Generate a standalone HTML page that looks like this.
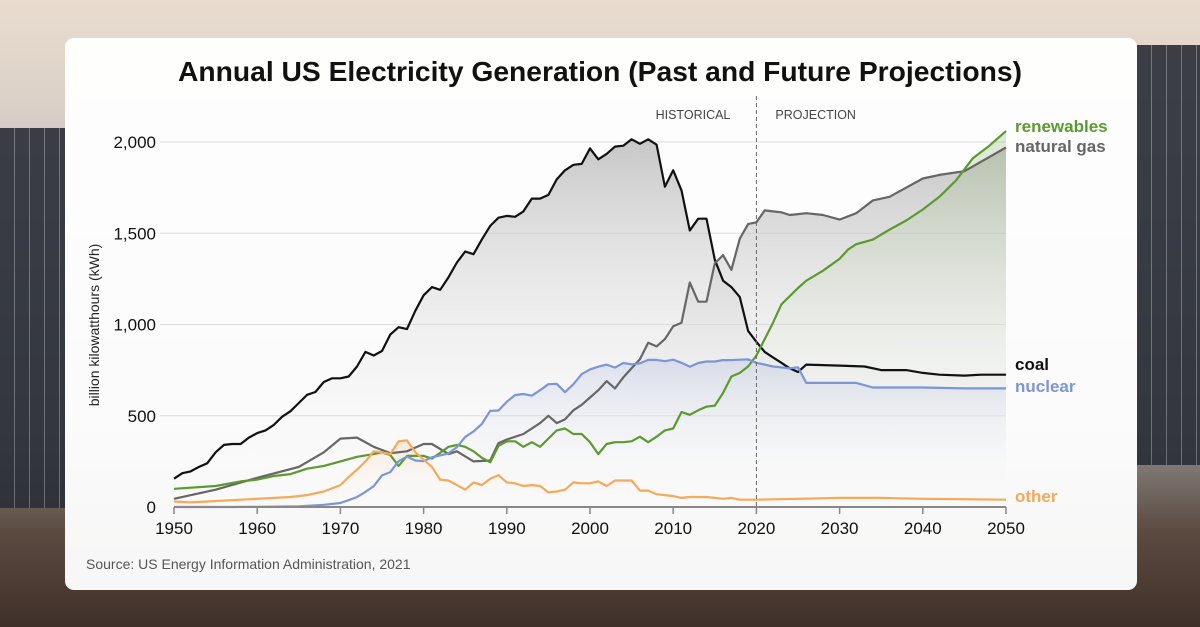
<!DOCTYPE html>
<html><head><meta charset="utf-8"><style>
html,body{margin:0;padding:0;width:1200px;height:627px;overflow:hidden;font-family:"Liberation Sans",sans-serif}
#bg{position:absolute;left:0;top:0;width:1200px;height:627px;background:linear-gradient(180deg,#e9dccf 0%,#ddd2c8 15%,#b9b8bc 40%,#8d8a88 70%,#5b4a40 85%,#3f3029 100%)}
.panel{position:absolute;background:repeating-linear-gradient(90deg,#2a2e36 0 14px,#6a707a 14px 15px),#2a2e36;opacity:0.9}
#card{position:absolute;left:65px;top:38px;width:1072px;height:552px;background:rgba(255,255,255,0.96);border-radius:9px}
svg{position:absolute;left:0;top:0}
</style></head><body>
<div id="bg"></div>
<div class="panel" style="left:0;top:128px;width:65px;height:380px"></div>
<div class="panel" style="left:1137px;top:45px;width:63px;height:420px"></div>
<div id="card"></div>
<svg id="chart" width="1200" height="627">
<defs>
<linearGradient id="gGray" x1="0" y1="0" x2="0" y2="1"><stop offset="0" stop-color="#b5b5b5" stop-opacity="0.75"/><stop offset="1" stop-color="#ffffff" stop-opacity="0"/></linearGradient>
<linearGradient id="gGreen" x1="0" y1="0" x2="0" y2="1"><stop offset="0" stop-color="#8fb26e" stop-opacity="0.3"/><stop offset="1" stop-color="#ffffff" stop-opacity="0"/></linearGradient>
<linearGradient id="gBlue" x1="0" y1="0" x2="0" y2="1"><stop offset="0" stop-color="#9aa8d8" stop-opacity="0.25"/><stop offset="1" stop-color="#ffffff" stop-opacity="0"/></linearGradient>
<linearGradient id="gOrange" x1="0" y1="0" x2="0" y2="1"><stop offset="0" stop-color="#f6c08a" stop-opacity="0.3"/><stop offset="1" stop-color="#ffffff" stop-opacity="0"/></linearGradient>
</defs>
<text x="600" y="81" text-anchor="middle" font-size="28" font-weight="bold" fill="#111" textLength="844" lengthAdjust="spacingAndGlyphs">Annual US Electricity Generation (Past and Future Projections)</text>
<text x="86" y="569" font-size="14" fill="#555">Source: US Energy Information Administration, 2021</text>
<text transform="translate(99,325) rotate(-90)" text-anchor="middle" font-size="14" fill="#222">billion kilowatthours (kWh)</text>
<g id="grid"></g><g id="areas"></g><g id="lines"></g><g id="axes"></g><g id="labels"></g>
</svg>
<script>
const yTicks=[0,500,1000,1500,2000];
const yTickLabels=["0","500","1,000","1,500","2,000"];
const xTicks=[1950,1960,1970,1980,1990,2000,2010,2020,2030,2040,2050];
const coalYears=[1950,1951,1952,1953,1954,1955,1956,1957,1958,1959,1960,1961,1962,1963,1964,1965,1966,1967,1968,1969,1970,1971,1972,1973,1974,1975,1976,1977,1978,1979,1980,1981,1982,1983,1984,1985,1986,1987,1988,1989,1990,1991,1992,1993,1994,1995,1996,1997,1998,1999,2000,2001,2002,2003,2004,2005,2006,2007,2008,2009,2010,2011,2012,2013,2014,2015,2016,2017,2018,2019,2020,2021,2022,2023,2024,2025,2026,2030,2033,2035,2038,2040,2042,2045,2047,2050];
const coalValues=[155,185,195,220,240,300,340,345,345,380,405,420,450,495,525,570,615,630,685,705,705,715,770,850,830,855,945,985,975,1075,1160,1205,1190,1260,1340,1400,1385,1465,1540,1585,1595,1590,1620,1690,1690,1710,1795,1845,1875,1880,1965,1905,1935,1975,1980,2015,1990,2015,1985,1755,1845,1735,1515,1580,1580,1355,1240,1205,1150,965,905,850,820,790,760,740,780,775,770,750,750,735,725,720,725,725];
const gasYears=[1950,1955,1960,1965,1968,1970,1972,1974,1976,1978,1980,1981,1983,1984,1986,1988,1989,1990,1992,1994,1995,1996,1997,1998,1999,2000,2001,2002,2003,2004,2005,2006,2007,2008,2009,2010,2011,2012,2013,2014,2015,2016,2017,2018,2019,2020,2021,2022,2023,2024,2025,2026,2028,2030,2032,2034,2036,2040,2042,2045,2050];
const gasValues=[45,95,160,220,300,375,380,330,295,305,345,345,290,305,250,255,350,370,400,460,500,460,480,530,560,600,640,690,650,710,760,810,900,880,920,990,1010,1230,1125,1125,1335,1380,1300,1470,1550,1560,1625,1620,1615,1600,1605,1610,1600,1575,1610,1680,1700,1800,1820,1840,1970];
const renYears=[1950,1955,1958,1960,1962,1964,1966,1968,1970,1972,1974,1975,1976,1977,1978,1980,1981,1983,1984,1985,1986,1987,1988,1989,1990,1991,1992,1993,1994,1995,1996,1997,1998,1999,2000,2001,2002,2003,2004,2005,2006,2007,2008,2009,2010,2011,2012,2013,2014,2015,2016,2017,2018,2019,2020,2021,2022,2023,2024,2025,2026,2028,2030,2031,2032,2034,2036,2038,2040,2042,2044,2046,2048,2050];
const renValues=[100,115,140,150,170,180,210,225,250,275,290,300,285,225,280,280,265,330,340,330,305,270,245,335,360,360,330,355,330,375,420,430,400,400,355,290,345,355,355,360,385,355,385,420,430,520,505,530,550,555,625,715,735,770,830,920,1010,1110,1155,1200,1240,1295,1360,1410,1440,1465,1520,1570,1630,1700,1790,1910,1980,2060];
const nucYears=[1950,1957,1960,1965,1968,1970,1971,1972,1973,1974,1975,1976,1977,1978,1979,1980,1981,1982,1983,1984,1985,1986,1987,1988,1989,1990,1991,1992,1993,1994,1995,1996,1997,1998,1999,2000,2001,2002,2003,2004,2005,2006,2007,2008,2009,2010,2011,2012,2013,2014,2015,2016,2017,2018,2019,2020,2022,2024,2025,2026,2032,2034,2040,2045,2050];
const nucValues=[0,0,1,4,12,22,38,54,83,114,173,191,251,276,255,251,273,283,294,328,384,414,455,527,529,577,613,619,610,640,673,675,629,673,728,754,769,780,764,789,782,787,806,806,799,807,790,769,789,797,797,805,805,807,809,790,770,760,765,680,680,655,655,650,650];
const othYears=[1950,1952,1954,1956,1958,1960,1964,1966,1968,1970,1971,1972,1973,1974,1975,1976,1977,1978,1979,1980,1981,1982,1983,1984,1985,1986,1987,1988,1989,1990,1991,1992,1993,1994,1995,1996,1997,1998,1999,2000,2001,2002,2003,2004,2005,2006,2007,2008,2009,2010,2011,2012,2013,2014,2015,2016,2017,2018,2019,2020,2025,2030,2035,2040,2050];
const othValues=[30,25,30,35,40,45,55,65,85,120,165,205,250,305,300,290,360,365,300,260,220,150,145,120,95,135,120,155,175,135,130,115,120,115,80,85,95,135,130,130,140,115,145,145,145,90,90,70,65,60,50,55,55,55,50,45,50,40,40,40,45,50,50,45,40];

const NS="http://www.w3.org/2000/svg";
const X=y=>174+(y-1950)*8.32;
const Y=v=>507-v*0.1825;
function mk(tag,attrs,parent){const e=document.createElementNS(NS,tag);for(const k in attrs)e.setAttribute(k,attrs[k]);document.getElementById(parent).appendChild(e);return e;}
yTicks.forEach((t,i)=>{
  if(t>0){const g=mk('line',{x1:160,x2:1006,y1:Y(t),y2:Y(t),stroke:'#dcdcdc','stroke-width':1},'grid');
  
  }
  const tl=mk('text',{x:156,y:Y(t)+6,'text-anchor':'end','font-size':17,fill:'#111'},'axes');
  tl.textContent=yTickLabels[i];
  
  
});
const ax=mk('line',{x1:174,x2:1006,y1:507,y2:507,stroke:'#888','stroke-width':2},'axes');


xTicks.forEach(t=>{
  const tk=mk('line',{x1:X(t),x2:X(t),y1:507,y2:514,stroke:'#888','stroke-width':1.5},'axes');
  
  
  const tl=mk('text',{x:X(t),y:534,'text-anchor':'middle','font-size':17,fill:'#111'},'axes');
  tl.textContent=t;
  
  
});
const dl=mk('line',{x1:X(2020),x2:X(2020),y1:96,y2:507,stroke:'#666','stroke-width':1,'stroke-dasharray':'4,3'},'axes');


const h=mk('text',{x:X(2020)-26,y:119,'text-anchor':'end','font-size':12.5,fill:'#444'},'axes');h.textContent='HISTORICAL';


const p=mk('text',{x:X(2020)+19,y:119,'font-size':12.5,fill:'#444'},'axes');p.textContent='PROJECTION';



const series=[
 {n:'coal',yrs:coalYears,v:coalValues,c:'#111',f:'url(#gGray)',lbl:'coal',ly:370},
 {n:'natural-gas',yrs:gasYears,v:gasValues,c:'#666',f:'url(#gGray)',lbl:'natural gas',ly:152},
 {n:'renewables',yrs:renYears,v:renValues,c:'#5a9a2e',f:'url(#gGreen)',lbl:'renewables',ly:132},
 {n:'nuclear',yrs:nucYears,v:nucValues,c:'#7b96d8',f:'url(#gBlue)',lbl:'nuclear',ly:392},
 {n:'other',yrs:othYears,v:othValues,c:'#f6a959',f:'url(#gOrange)',lbl:'other',ly:502}
];
series.forEach(s=>{
  const pts=s.yrs.map((y,i)=>X(y).toFixed(1)+','+Y(s.v[i]).toFixed(1));
  const a=mk('path',{d:'M'+X(s.yrs[0])+','+Y(0)+' L'+pts.join(' L')+' L'+X(s.yrs[s.yrs.length-1])+','+Y(0)+'Z',fill:s.f},'areas');
  
  
  const l=mk('path',{d:'M'+pts.join(' L'),fill:'none',stroke:s.c,'stroke-width':2.2,'stroke-linejoin':'round'},'lines');
  
  
  const t=mk('text',{x:1015,y:s.ly,'font-size':17,'font-weight':'bold',fill:s.c},'labels');
  t.textContent=s.lbl;
  
  
});
</script>
</body></html>
